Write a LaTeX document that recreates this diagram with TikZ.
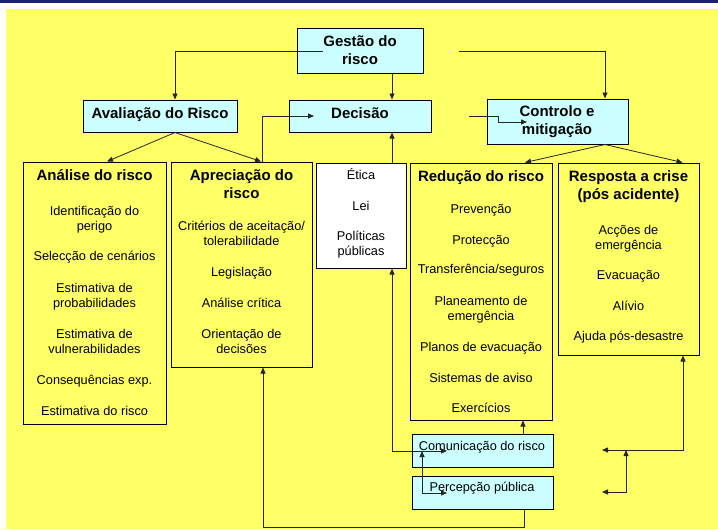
\documentclass[tikz,border=0pt]{standalone}
\usepackage{fontspec}
\setmainfont{Liberation Sans}
\usetikzlibrary{arrows.meta,calc}
\definecolor{yel}{HTML}{FFFF66}
\definecolor{cyanbox}{HTML}{CCFFFF}
\definecolor{navy}{HTML}{1F1F7A}
\begin{document}
\begin{tikzpicture}[x=1pt,y=-1pt,
  box/.style={draw=black,line width=1pt,inner sep=0pt},
  ybox/.style={box,fill=yel},
  cbox/.style={box,fill=cyanbox},
  wbox/.style={box,fill=white},
  txt/.style={font=\fontsize{12.75}{15}\selectfont,align=center,inner sep=0pt,text height=9pt,text depth=0pt},
  ttl/.style={font=\bfseries\fontsize{15}{18}\selectfont,align=center,inner sep=0pt,text height=10.8pt,text depth=0pt},
  con/.style={draw=black!85,line width=0.8pt},
  tri/.tip={Triangle[length=6pt,width=5pt]}
]
\useasboundingbox (0,0) rectangle (718,530);
\fill[navy] (0,0) rectangle (718,2.7);
\fill[yel] (6,9) rectangle (718,528.5);

% boxes
\node[cbox,minimum width=126pt,minimum height=45pt] (g) at (360,50.5) {};
\node[cbox,minimum width=154pt,minimum height=32pt] (av) at (160,116) {};
\node[cbox,minimum width=142pt,minimum height=32pt] (dec) at (360,116) {};
\node[cbox,minimum width=141pt,minimum height=45pt] (ctl) at (557.5,121.5) {};
\node[ybox,minimum width=143pt,minimum height=262pt] (ana) at (94.5,293) {};
\node[ybox,minimum width=141pt,minimum height=205pt] (apr) at (241.5,264.5) {};
\node[wbox,minimum width=90pt,minimum height=105pt] (eti) at (361,215.5) {};
\node[ybox,minimum width=142pt,minimum height=257pt] (red) at (481,291.5) {};
\node[ybox,minimum width=141pt,minimum height=192pt] (res) at (628.5,259) {};
\node[cbox,minimum width=141pt,minimum height=33pt] (com) at (482.5,450.5) {};
\node[cbox,minimum width=141pt,minimum height=33pt] (per) at (482.5,492.5) {};

% texts (multi-line nodes are placed by their last line)
\node[ttl] (tg) at (360,59) {Gestão do\\risco};
\node[ttl] (tav) at (160,113) {Avaliação do Risco};
\node[ttl] (tdec) at (360,113) {Decisão};
\node[ttl] (tctl) at (557,129) {Controlo e\\mitigação};

\node[ttl] (ta0) at (94.5,175) {Análise do risco};
\node[txt] (ta1) at (94.5,226) {Identificação do\\perigo};
\node[txt] (ta2) at (94.5,256) {Selecção de cenários};
\node[txt] (ta3) at (94.5,303) {Estimativa de\\probabilidades};
\node[txt] (ta4) at (94.5,349) {Estimativa de\\vulnerabilidades};
\node[txt] (ta5) at (94.5,380) {Consequências exp.};
\node[txt] (ta6) at (94.5,410.5) {Estimativa do risco};

\node[ttl] (tp0) at (241.5,193) {Apreciação do\\risco};
\node[txt] (tp1) at (241.5,241) {Critérios de aceitação/\\tolerabilidade};
\node[txt] (tp2) at (241.5,272) {Legislação};
\node[txt] (tp3) at (241.5,303) {Análise crítica};
\node[txt] (tp4) at (241.5,349) {Orientação de\\decisões};

\node[txt] (te1) at (361,175) {Ética};
\node[txt] (te2) at (361,206) {Lei};
\node[txt] (te3) at (361,251) {Políticas\\públicas};

\node[ttl] (tr0) at (481,176) {Redução do risco};
\node[txt] (tr1) at (481,209) {Prevenção};
\node[txt] (tr2) at (481,240) {Protecção};
\node[txt] (tr3) at (481,269) {Transferência/seguros};
\node[txt] (tr4) at (481,316) {Planeamento de\\emergência};
\node[txt] (tr5) at (481,347) {Planos de evacuação};
\node[txt] (tr6) at (481,378) {Sistemas de aviso};
\node[txt] (tr7) at (481,408) {Exercícios};

\node[ttl] (ts0) at (628.5,194) {Resposta a crise\\(pós acidente)};
\node[txt] (ts1) at (628.5,245) {Acções de\\emergência};
\node[txt] (ts2) at (628.5,275) {Evacuação};
\node[txt] (ts3) at (628.5,306) {Alívio};
\node[txt] (ts4) at (628.5,336) {Ajuda pós-desastre};

\node[txt] (tc) at (482,446) {Comunicação do risco};
\node[txt] (tpp) at (482,487) {Percepção pública};

% connectors
\coordinate (g1) at (323,51);
\coordinate (g2) at (459,51);
\coordinate (d1) at (314,116);
\coordinate (d2) at (469,116);
\coordinate (d3) at (527,122);
\coordinate (c1) at (447,451);
\coordinate (c2) at (422,451);
\coordinate (c3) at (447,493);
\coordinate (r1) at (602,450);
\coordinate (r2) at (626,450);
\coordinate (r3) at (602,492);
\coordinate (b1) at (263,527.5);

\draw[con,-tri] (g1) -| ([xshift=15pt]av.north);
\draw[con,-tri] ([xshift=32pt]g.south) -- ([xshift=32pt]dec.north);
\draw[con,-tri] (g2) -| ([xshift=47.5pt]ctl.north);
\draw[con,-tri] ([xshift=15pt]av.south) -- ([xshift=12.5pt]ana.north);
\draw[con,-tri] ([xshift=15pt]av.south) -- ([xshift=19.5pt]apr.north);
\draw[con,-tri] ([xshift=20.5pt]apr.north) |- (d1);
\draw[con,-tri] ([xshift=31pt]eti.north) -- ([xshift=31pt]eti.north |- dec.south);
\draw[con,-tri] (d2) -- ++(29,0) -- ++(0,6) -- (d3);
\draw[con,-tri] ([xshift=47.5pt]ctl.south) -- ([xshift=44pt]red.north);
\draw[con,-tri] ([xshift=47.5pt]ctl.south) -- ([xshift=54pt]res.north);
\draw[con,-tri] ([xshift=40.5pt]com.north) -- ([xshift=40.5pt]com.north |- red.south);
\draw[con,tri-tri] (c1) -| ([xshift=31pt]eti.south);
\draw[con,tri-tri] (c2) |- (c3);
\draw[con,tri-tri] (r1) -| ([xshift=54.5pt]res.south);
\draw[con,tri-tri] (r2) |- (r3);
\draw[con,-tri] ([xshift=41.5pt]per.south) |- (b1) -- ([xshift=21.5pt]apr.south);
\end{tikzpicture}
\end{document}
